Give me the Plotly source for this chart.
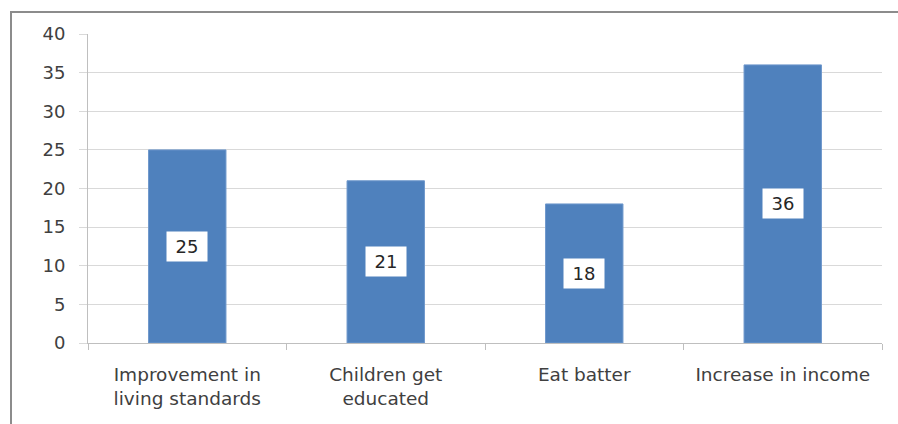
import plotly.graph_objects as go

categories = ["Improvement in<br>living standards", "Children get<br>educated", "Eat batter", "Increase in income"]
values = [25, 21, 18, 36]
y_ticks = [0, 5, 10, 15, 20, 25, 30, 35, 40]

BAR_BLUE = "#4F81BD"
TEXT_GREY = "#404040"
FONT = "DejaVu Sans"

fig = go.Figure()
fig.add_trace(go.Bar(
    x=categories,
    y=values,
    marker=dict(color=BAR_BLUE, line=dict(color="#6f98cc", width=1)),
    width=0.39,
    hoverinfo="skip",
))

# value labels sit in white boxes at the middle of each bar
for cat, v in zip(categories, values):
    fig.add_annotation(
        x=cat, y=v / 2, text=str(v), showarrow=False,
        font=dict(family=FONT, size=18, color="#262626"),
        bgcolor="white", borderpad=0, width=40, height=29,
    )

W, H = 898, 424
ml, mr, mt, mb = 88, 16, 34, 81
pw, ph = W - ml - mr, H - mt - mb

# chart-area frame (top and left edges visible; right/bottom run off the page)
fig.add_shape(
    type="rect", xref="paper", yref="paper",
    x0=(11 - ml) / pw, x1=(W + 20 - ml) / pw,
    y0=-(H + 20 - mt - ph) / ph, y1=(H - 12 - mb) / ph,
    line=dict(color="#8c8c8c", width=2), fillcolor="rgba(0,0,0,0)", layer="below",
)

fig.update_layout(
    width=W, height=H,
    margin=dict(l=ml, r=mr, t=mt, b=mb),
    paper_bgcolor="white", plot_bgcolor="white",
    showlegend=False,
    bargap=0.61,
    font=dict(family=FONT, size=18, color=TEXT_GREY),
    xaxis=dict(
        type="category",
        showgrid=False,
        showline=True, linecolor="#bfbfbf", linewidth=1,
        ticks="outside", tickson="boundaries", ticklen=6, tickcolor="#bfbfbf",
        tickfont=dict(family=FONT, size=18.5, color=TEXT_GREY),
        ticklabelstandoff=15,
    ),
    yaxis=dict(
        range=[0, 40],
        tickvals=y_ticks,
        showgrid=True, gridcolor="#d9d9d9", gridwidth=1,
        showline=True, linecolor="#bfbfbf", linewidth=1,
        ticks="outside", ticklen=8, tickcolor="#d9d9d9",
        tickfont=dict(family=FONT, size=18, color=TEXT_GREY),
        ticklabelstandoff=10,
        zeroline=False,
    ),
)

fig.write_html("out.html")
